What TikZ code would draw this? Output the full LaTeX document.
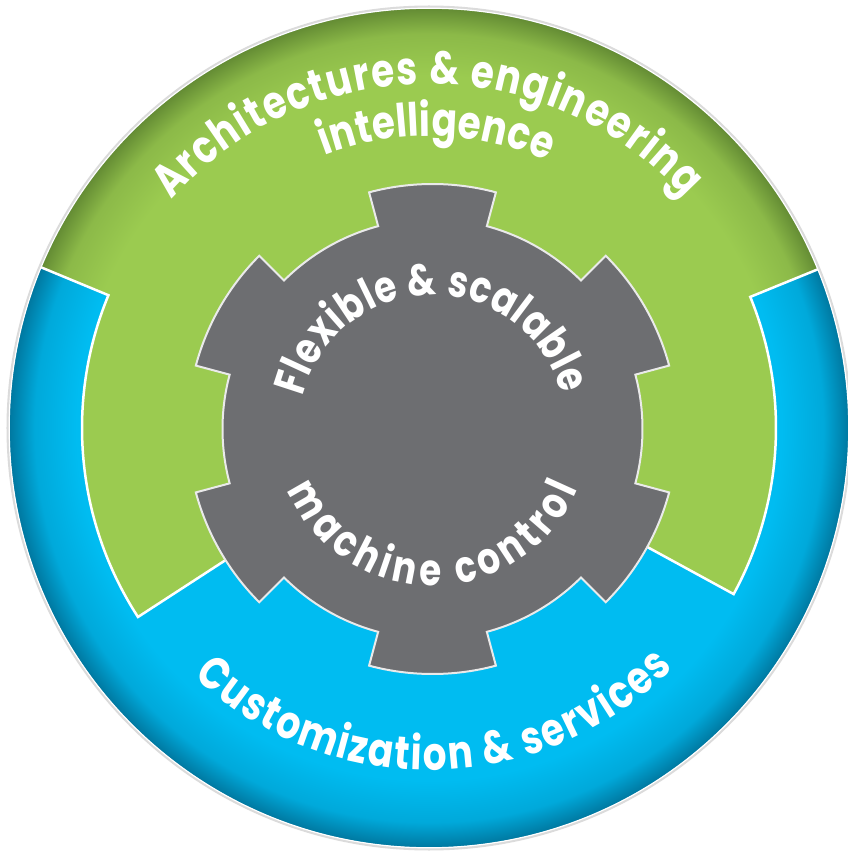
\documentclass[tikz,border=0pt]{standalone}
\usepackage{fontspec}
\setmainfont{Poppins}[FakeStretch=0.81]
\usetikzlibrary{calc,decorations.text}
\definecolor{cgreen}{RGB}{155,203,80}
\definecolor{cgreendk}{RGB}{100,140,52}
\definecolor{cblue}{RGB}{0,188,241}
\definecolor{cbluedk}{RGB}{0,120,160}
\definecolor{cgray}{RGB}{109,110,113}
\definecolor{cline}{RGB}{234,234,234}
\colorlet{cgreenmid}{cgreen!72!cgreendk}
\colorlet{cbluemid}{cblue!72!cbluedk}
\pgfdeclareradialshading{greenvig}{\pgfpointorigin}{color(0bp)=(cgreen); color(21bp)=(cgreen); color(23.5bp)=(cgreenmid); color(25bp)=(cgreendk); color(50bp)=(cgreendk)}
\pgfdeclareradialshading{bluevig}{\pgfpointorigin}{color(0bp)=(cblue); color(21bp)=(cblue); color(23.5bp)=(cbluemid); color(25bp)=(cbluedk); color(50bp)=(cbluedk)}
\newcommand\outerfnt{\bfseries\fontsize{46bp}{48bp}\selectfont}
\newcommand\gearfnt{\bfseries\fontsize{44bp}{46bp}\selectfont}
\begin{document}
\begin{tikzpicture}[x=1bp,y=1bp,
  bnd/.style={white,line width=2.5bp,line join=miter},
  gearst/.style={fill=cgray,draw=cline,line width=2bp,line join=miter},
  lbl/.style={decorate,decoration={text along path,text align=fit to path,text color=white}}]
\useasboundingbox (-429,-423) rectangle (419,428);
\coordinate (O) at (0,0);
\coordinate (G) at (3.5,-1);
% rim and blue disc
\draw[black!14,line width=3bp] (O) circle (421);
\shade[shading=bluevig] (O) circle (419.5);
% green region
\begin{scope}
\clip (157.5:419.5) -- (157.5:347) arc[start angle=157.5,end angle=213,radius=347]
  -- (213:200) -- (331.4:200) -- (331.4:347) arc[start angle=331.4,end angle=382.2,radius=347]
  -- (22.2:419.5) arc[start angle=22.2,end angle=157.5,radius=419.5] -- cycle;
\shade[shading=greenvig] (O) circle (419.5);
\end{scope}
\draw[bnd] (157.5:420) -- (157.5:347) arc[start angle=157.5,end angle=213,radius=347] -- (213:200);
\draw[bnd] (331.4:200) -- (331.4:347) arc[start angle=331.4,end angle=382.2,radius=347] -- (22.2:420);
\draw[white,line width=1.2bp] (O) circle (419.8);
% gear
\begin{scope}[shift={(G)}]
\draw[gearst] (75:210) -- (75:245) arc[start angle=75,end angle=105,radius=245]
  -- (105:210) arc[start angle=105,end angle=135,radius=210]
  -- (135:245) arc[start angle=135,end angle=165,radius=245]
  -- (165:210) arc[start angle=165,end angle=195,radius=210]
  -- (195:245) arc[start angle=195,end angle=225,radius=245]
  -- (225:210) arc[start angle=225,end angle=255,radius=210]
  -- (255:245) arc[start angle=255,end angle=285,radius=245]
  -- (285:210) arc[start angle=285,end angle=315,radius=210]
  -- (315:245) arc[start angle=315,end angle=345,radius=245]
  -- (345:210) arc[start angle=345,end angle=375,radius=210]
  -- (375:245) arc[start angle=375,end angle=405,radius=245]
  -- (405:210) arc[start angle=405,end angle=435,radius=210] -- cycle;
\end{scope}
% labels
\path[lbl,decoration={text={|\outerfnt|Architectures {\&} engineering}}]
  ($(O)+(138.5:344)$) arc[start angle=138.5,end angle=42,radius=344];
\path[lbl,decoration={text={|\outerfnt|intelligence}}]
  ($(O)+(111:292)$) arc[start angle=111,end angle=66,radius=292];
\path[lbl,decoration={text={|\outerfnt|Customization {\&} services}}]
  ($(O)+(226.5:342)$) arc[start angle=226.5,end angle=315.5,radius=342];
\path[lbl,decoration={text={|\gearfnt|Flexible {\&} scalable}}]
  ($(G)+(166:134)$) arc[start angle=166,end angle=15,radius=134];
\path[lbl,decoration={text={|\gearfnt|machine control}}]
  ($(G)+(203:157)$) arc[start angle=203,end angle=337.5,radius=157];
\end{tikzpicture}
\end{document}
